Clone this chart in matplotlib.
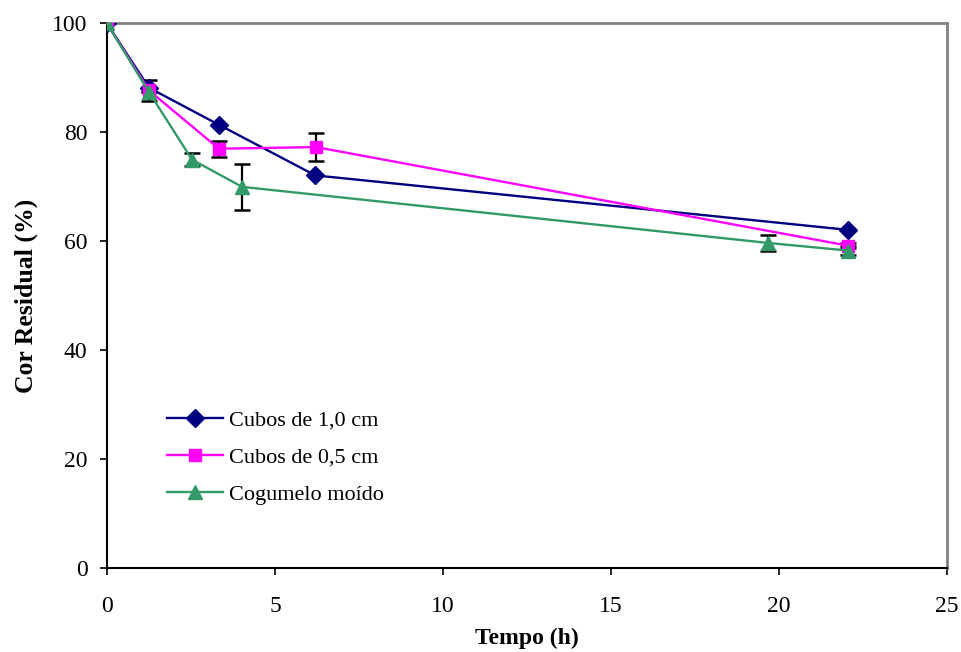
import matplotlib.pyplot as plt

plt.rcParams['font.family'] = ['Liberation Serif', 'DejaVu Serif']

# Cubos de 1,0 cm
t_10 = [0, 1.25, 3.33, 6.2, 22.05]
c_10 = [100, 88.2, 81.4, 72.1, 62.1]

# Cubos de 0,5 cm
t_05 = [0, 1.25, 3.33, 6.22, 22.05]
c_05 = [100, 87.7, 77.0, 77.3, 59.2]
e_05 = [0, 2.0, 1.5, 2.6, 0.5]

# Cogumelo moido
t_cg = [0, 1.25, 2.53, 4.02, 19.67, 22.05]
c_cg = [100, 87.4, 75.0, 70.0, 59.7, 58.3]
e_cg = [0, 0, 1.2, 4.2, 1.4, 0.9]

fig = plt.figure(figsize=(9.62, 6.52), dpi=100)
ax = fig.add_axes([0.1112, 0.1288, 0.8732, 0.8352])

ax.errorbar(t_05, c_05, yerr=e_05, fmt='none', ecolor='black', elinewidth=1.6,
            capsize=5.5, capthick=1.8, zorder=2)
ax.errorbar(t_cg, c_cg, yerr=e_cg, fmt='none', ecolor='black', elinewidth=1.6,
            capsize=5.5, capthick=1.8, zorder=2)

ax.plot(t_10, c_10, color='#000080', marker='D', ms=9.5, lw=1.7,
        label='Cubos de 1,0 cm', zorder=3)
ax.plot(t_05, c_05, color='#FF00FF', marker='s', ms=9, lw=1.7,
        label='Cubos de 0,5 cm', zorder=3)
ax.plot(t_cg, c_cg, color='#339966', marker='^', ms=10, lw=1.7,
        label='Cogumelo moído', zorder=3)

ax.set_xlim(0, 25)
ax.set_ylim(0, 100)
ax.set_xticks([0, 5, 10, 15, 20, 25])
ax.set_yticks([0, 20, 40, 60, 80, 100])
ax.tick_params(axis='x', direction='out', length=5, width=1.2, pad=15, labelsize=17)
ax.tick_params(axis='y', direction='out', length=5, width=1.2, pad=9, labelsize=17)

for s in ['top', 'right']:
    ax.spines[s].set_color('#808080')
    ax.spines[s].set_linewidth(2)
for s in ['left', 'bottom']:
    ax.spines[s].set_color('black')
    ax.spines[s].set_linewidth(1.5)

ax.set_xlabel('Tempo (h)', fontsize=17, fontweight='bold', labelpad=8)
ax.set_ylabel('Cor Residual (%)', fontsize=18.5, fontweight='bold', labelpad=10)

ax.legend(loc='upper left', bbox_to_anchor=(0.048, 0.327), frameon=False,
          fontsize=16, handlelength=2.5, labelspacing=0.75, handletextpad=0.27)

fig.savefig('out.png', dpi=100)
